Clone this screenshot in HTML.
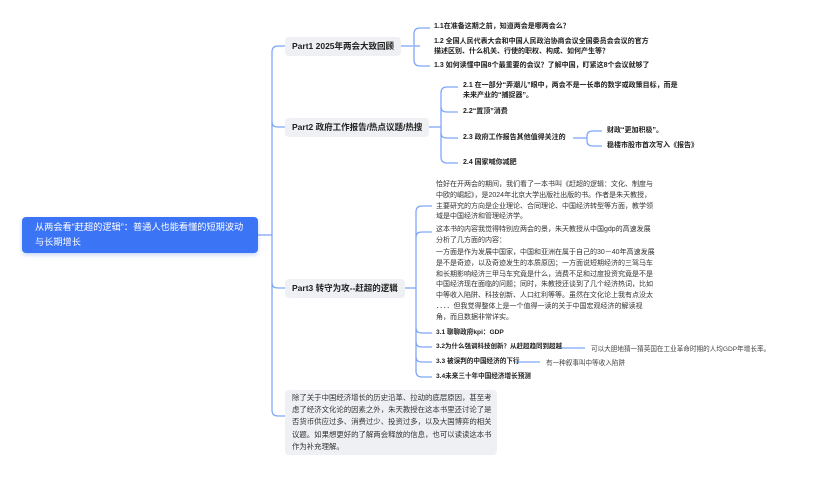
<!DOCTYPE html>
<html><head><meta charset="utf-8"><style>
body{margin:0;width:832px;height:478px;background:#fff;position:relative;overflow:hidden;font-family:"Liberation Sans","Noto Sans CJK SC",sans-serif;color:#222}
.a{position:absolute;white-space:nowrap}
.b{font-weight:bold;font-size:7px;line-height:10px}
.p{position:absolute;background:#eef0f3;border-radius:4px;font-weight:bold;font-size:8.5px;line-height:19px;padding:0 7px;color:#222}
.t{position:absolute;font-size:7px;line-height:10.8px;color:#333;white-space:nowrap}
.g{color:#444;font-size:6.6px}
</style></head><body>
<svg width="832" height="478" style="position:absolute;left:0;top:0" fill="none" stroke="#7fa6f7" stroke-width="1.3">
<path d="M258,235H272"/>
<path d="M285,46H278Q272,46 272,52V410Q272,416 278,416H285"/>
<path d="M272,122Q272,127 278,127H285"/>
<path d="M272,283Q272,288 278,288H285"/>
<path d="M400,46H413"/>
<path d="M430,28H420Q414,28 414,34V60Q414,66 420,66H430"/>
<path d="M414,46Q414,46 420,46"/>
<path d="M428,127H441"/>
<path d="M458,87H447Q441,87 441,93V157Q441,163 447,163H458"/>
<path d="M441,107Q441,112 447,112H458"/>
<path d="M441,133Q441,138 447,138H458"/>
<path d="M573,138H587"/>
<path d="M602,131H593Q587,131 587,136V141Q587,146 593,146H602"/>
<path d="M403,288H416"/>
<path d="M432,206H422Q416,206 416,212V371Q416,377 422,377H432"/>
<path d="M416,237Q416,232 422,232H432"/>
<path d="M416,328Q416,333 422,333H432"/>
<path d="M416,342Q416,347 422,347H432"/>
<path d="M416,357Q416,362 422,362H432"/>
<path d="M560,348H585"/>
<path d="M515,362H540"/>
</svg>
<div class="a" style="left:22px;top:217px;width:236px;height:36px;background:#3c74f6;border-radius:4px;box-shadow:0 2px 4px rgba(60,116,246,.3)"></div>
<div class="a" style="left:35px;top:220px;color:#fff;font-size:9.2px;line-height:15px;white-space:normal;width:215px">从两会看“赶超的逻辑”：普通人也能看懂的短期波动与长期增长</div>

<div class="p" style="left:285px;top:37px">Part1 2025年两会大致回顾</div>
<div class="p" style="left:285px;top:118px">Part2 政府工作报告/热点议题/热搜</div>
<div class="p" style="left:285px;top:279px">Part3 转守为攻--赶超的逻辑</div>

<div class="a b" style="left:434px;top:22px">1.1在准备这期之前，知道两会是哪两会么？</div>
<div class="a b" style="left:434px;top:37px">1.2 全国人民代表大会和中国人民政治协商会议全国委员会会议的官方<br>描述区别、什么机关、行使的职权、构成、如何产生等？</div>
<div class="a b" style="left:434px;top:61px">1.3 如何读懂中国8个最重要的会议？了解中国，盯紧这8个会议就够了</div>

<div class="a b" style="left:463px;top:81px">2.1 在一部分“弄潮儿”眼中，两会不是一长串的数字或政策目标，而是<br>未来产业的“捕捉器”。</div>
<div class="a b" style="left:463px;top:107px">2.2“置顶”消费</div>
<div class="a b" style="left:463px;top:133px">2.3 政府工作报告其他值得关注的</div>
<div class="a b" style="left:463px;top:158px">2.4 国家喊你减肥</div>
<div class="a b" style="left:607px;top:126px">财政“更加积极”。</div>
<div class="a b" style="left:607px;top:141px">稳楼市股市首次写入《报告》</div>

<div class="t" style="left:436px;top:180px">恰好在开两会的期间，我们看了一本书叫《赶超的逻辑：文化、制度与<br>中欧的崛起》，是2024年北京大学出版社出版的书。作者是朱天教授，<br>主要研究的方向是企业理论、合同理论、中国经济转型等方面，教学领<br>域是中国经济和管理经济学。</div>
<div class="t" style="left:436px;top:225px">这本书的内容我觉得特别应两会的景，朱天教授从中国gdp的高速发展<br>分析了几方面的内容：</div>
<div class="t" style="left:436px;top:248px">一方面是作为发展中国家，中国和亚洲在属于自己的30－40年高速发展<br>是不是奇迹，以及奇迹发生的本质原因；一方面说短期经济的三驾马车<br>和长期影响经济三甲马车究竟是什么，消费不足和过度投资究竟是不是<br>中国经济现在面临的问题；同时，朱教授还谈到了几个经济热词，比如<br>中等收入陷阱、科技创新、人口红利等等。虽然在文化论上我有点没太<br>．．．．但我觉得整体上是一个值得一读的关于中国宏观经济的解读视<br>角，而且数据非常详实。</div>

<div class="a b" style="left:436px;top:328px;font-size:6.6px">3.1 聊聊政府kpi：GDP</div>
<div class="a b" style="left:436px;top:342px;font-size:6.5px">3.2为什么强调科技创新？从赶超趋同到超越</div>
<div class="a b" style="left:436px;top:357px;font-size:6.6px">3.3 被误判的中国经济的下行</div>
<div class="a b" style="left:436px;top:372px;font-size:6.6px">3.4未来三十年中国经济增长预测</div>
<div class="a g" style="left:591px;top:343px">可以大胆地猜一猜英国在工业革命时期的人均GDP年增长率。</div>
<div class="a g" style="left:546px;top:357px">有一种叙事叫中等收入陷阱</div>

<div class="a" style="left:285px;top:390px;width:212px;height:65px;background:#eef0f3;border-radius:4px"></div>
<div class="a" style="left:292px;top:392px;font-size:7.4px;line-height:12.2px;color:#333">除了关于中国经济增长的历史沿革、拉动的底层原因，甚至考<br>虑了经济文化论的因素之外，朱天教授在这本书里还讨论了是<br>否货币供应过多、消费过少、投资过多，以及大国博弈的相关<br>议题。如果想更好的了解两会释放的信息，也可以读读这本书<br>作为补充理解。</div>
</body></html>
